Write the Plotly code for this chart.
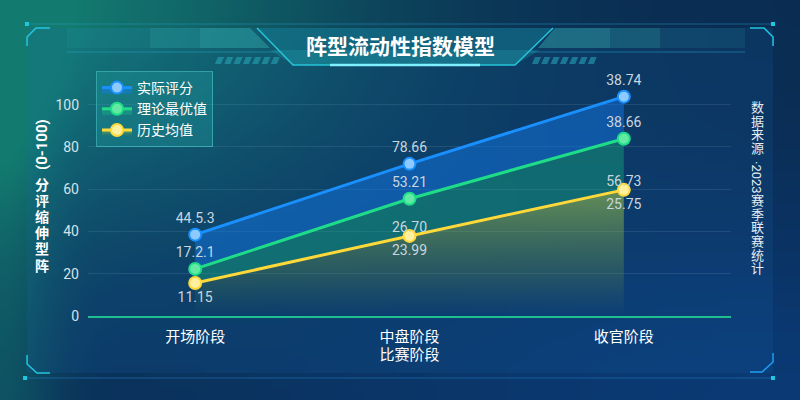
import base64
import math
import struct
import zlib

import plotly.graph_objects as go

# chart values
stages = ['开场阶段', '中盘阶段', '收官阶段']
actual = [38.5, 72.0, 103.8]
optimal = [22.3, 55.5, 83.9]
history = [15.6, 37.9, 59.7]

# data labels as printed on the reference
actual_text = ['44.5.3', '78.66', '38.74']
optimal_text = ['17.2.1', '53.21', '38.66']
history_text = ['11.15', '23.99', '25.75']
history_top_text = ['', '26.70', '56.73']

y_ticks = [0, 20, 40, 60, 80, 100]

FONT = 'Roboto, "Noto Sans CJK SC", sans-serif'
W, H = 800, 400


def mix(c1, c2, t):
    return tuple(c1[k] + (c2[k] - c1[k]) * t for k in range(3))


def bg_png(w=100, h=50):
    # small gradient picture, stretched over the page as background
    navy = (10, 44, 82)
    teal = (19, 122, 112)
    blue = (10, 60, 122)
    raw = b''
    for j in range(h):
        v = (j + 0.5) / h
        row = bytearray([0])
        for i in range(w):
            u = (i + 0.5) / w
            t = math.exp(-((u / 0.45) ** 2 + (v / 0.55) ** 2)) + 0.45 * math.exp(-(u / 0.07) ** 2)
            b = 0.85 * math.exp(-(((1 - u) / 0.75) ** 2 + ((1 - v) / 0.5) ** 2))
            t = min(t, 1.0)
            c = mix(navy, blue, min(b, 1.0))
            c = mix(c, teal, t)
            row += bytes(int(max(0, min(255, x))) for x in c)
        raw += bytes(row)

    def chunk(tag, data):
        return (struct.pack('>I', len(data)) + tag + data
                + struct.pack('>I', zlib.crc32(tag + data) & 0xffffffff))

    png = b'\x89PNG\r\n\x1a\n'
    png += chunk(b'IHDR', struct.pack('>IIBBBBB', w, h, 8, 2, 0, 0, 0))
    png += chunk(b'IDAT', zlib.compress(raw, 9))
    png += chunk(b'IEND', b'')
    return 'data:image/png;base64,' + base64.b64encode(png).decode()


def P(x, y):
    return f'{x / W:.4f},{1 - y / H:.4f}'


def path(points, close=True):
    s = 'M ' + ' L '.join(P(x, y) for x, y in points)
    return s + (' Z' if close else '')


shapes = []


def poly(points, fill, line='rgba(0,0,0,0)', width=0):
    shapes.append(dict(type='path', path=path(points), xref='paper', yref='paper',
                       fillcolor=fill, line=dict(color=line, width=width), layer='below'))


def polyline(points, color, width=1.5):
    shapes.append(dict(type='path', path=path(points, close=False), xref='paper', yref='paper',
                       line=dict(color=color, width=width), layer='below'))


# panel
poly([(27, 28), (773, 28), (773, 373), (27, 373)], 'rgba(30,110,190,0.14)')
polyline([(27, 24), (773, 24)], 'rgba(40,160,200,0.45)', 1)
polyline([(25, 378), (773, 378)], 'rgba(40,140,220,0.45)', 1)
# corner brackets
cyan = '#22c6e0'
polyline([(27, 46), (27, 37), (36, 28), (50, 28)], cyan, 1.5)
polyline([(750, 28), (764, 28), (773, 37), (773, 46)], cyan, 1.5)
polyline([(27, 355), (27, 364), (37, 373), (50, 373)], cyan, 1.5)
polyline([(750, 372), (762, 372), (773, 362), (773, 353)], '#1e9ef0', 1.5)
for dx, dy in [(27, 24), (773, 24), (25, 378), (773, 378)]:
    poly([(dx - 2, dy - 2), (dx + 2, dy - 2), (dx + 2, dy + 2), (dx - 2, dy + 2)], cyan)

# title banner
poly([(257, 28), (553, 28), (515, 65), (293, 65)], 'rgba(20,130,150,0.45)')
poly([(270, 50), (540, 50), (515, 65), (293, 65)], 'rgba(40,170,180,0.25)')
polyline([(257, 28), (293, 65), (515, 65), (553, 28)], '#25c4d8', 1.5)
polyline([(330, 65), (480, 65)], '#7ff0ff', 2.5)
# side bars
poly([(67, 28), (250, 28), (270, 48), (67, 48)], 'rgba(40,160,160,0.14)')
poly([(150, 28), (250, 28), (270, 48), (150, 48)], 'rgba(60,190,185,0.16)')
poly([(200, 28), (250, 28), (270, 48), (200, 48)], 'rgba(70,200,190,0.16)')
poly([(555, 28), (745, 28), (745, 48), (538, 48)], 'rgba(40,160,160,0.14)')
poly([(555, 28), (660, 28), (660, 48), (538, 48)], 'rgba(60,190,185,0.16)')
poly([(555, 28), (610, 28), (610, 48), (538, 48)], 'rgba(70,200,190,0.16)')
polyline([(67, 52), (282, 52)], 'rgba(40,170,200,0.5)', 1)
polyline([(526, 52), (745, 52)], 'rgba(40,170,200,0.5)', 1)
# hatch marks
for k in range(7):
    x0 = 218 + k * 9.3
    poly([(x0, 57), (x0 + 6, 57), (x0 + 3, 64), (x0 - 3, 64)], 'rgba(40,170,185,0.55)')
    x1 = 532 + k * 9.3
    poly([(x1 + 3, 57), (x1 + 9, 57), (x1 + 6, 64), (x1, 64)], 'rgba(40,170,185,0.55)')

fig = go.Figure()

label_font = dict(size=14, color='#c9d6df', family=FONT)

fig.add_trace(go.Scatter(
    x=stages, y=history, name='历史均值', legendrank=3,
    mode='lines+markers+text', text=history_text, textposition='bottom center',
    textfont=label_font,
    line=dict(color='#ffd83a', width=3),
    marker=dict(size=12, color='#fff0a0', line=dict(color='#ffd83a', width=2)),
    fill='tozeroy',
    fillgradient=dict(type='vertical', start=0, stop=60,
                      colorscale=[[0, 'rgba(100,150,70,0)'], [0.35, 'rgba(120,165,65,0.25)'],
                                  [1, 'rgba(160,200,75,0.6)']]),
    hoverinfo='skip',
))
fig.add_trace(go.Scatter(
    x=stages, y=optimal, name='理论最优值', legendrank=2,
    mode='lines+markers+text', text=optimal_text, textposition='top center',
    textfont=label_font,
    line=dict(color='#1fdc88', width=3),
    marker=dict(size=12, color='#62eaa5', line=dict(color='#1fdc88', width=2)),
    fill='tonexty', fillcolor='rgba(25,190,130,0.36)',
    hoverinfo='skip',
))
fig.add_trace(go.Scatter(
    x=stages, y=actual, name='实际评分', legendrank=1,
    mode='lines+markers+text', text=actual_text, textposition='top center',
    textfont=label_font,
    line=dict(color='#1a90ff', width=3),
    marker=dict(size=12, color='#8ccaff', line=dict(color='#1a90ff', width=2)),
    fill='tonexty', fillcolor='rgba(20,125,240,0.46)',
    hoverinfo='skip',
))
fig.add_trace(go.Scatter(
    x=stages, y=history, mode='text', text=history_top_text, textposition='top center',
    textfont=label_font, showlegend=False, hoverinfo='skip',
))


def note(text, x, y, size, angle=0, color='white'):
    return dict(text=text, x=x / W, y=1 - y / H, xref='paper', yref='paper',
                xanchor='center', yanchor='middle', textangle=angle, showarrow=False,
                font=dict(size=size, color=color, family=FONT))


def stack(chars, glyph, bold=False):
    # one glyph per line; line spacing follows the annotation font, glyph size the span
    cell = '<b>{}</b>' if bold else '{}'
    return '<br>'.join(f'<span style="font-size:{glyph}px">' + cell.format(c) + '</span>'
                       for c in chars)


annotations = [note('<b>阵型流动性指数模型</b>', 400, 47, 21)]

# y-axis title, upright glyphs stacked (reads bottom to top)
annotations.append(note('<b>(0-100)</b>', 42, 145, 15, angle=-90))
annotations.append(note(stack('分评缩伸型阵', 14, bold=True), 42, 225, 12.4))

# source note on the right
annotations.append(note(stack('数据来源', 13), 757, 128, 10.5, color='#e4edf4'))
annotations.append(note('·2023', 757, 177, 13, angle=90, color='#e4edf4'))
annotations.append(note(stack('赛季联赛统计', 13), 757, 234, 10.5, color='#e4edf4'))

fig.update_layout(
    width=W, height=H,
    margin=dict(l=0, r=0, t=0, b=0),
    paper_bgcolor='#0a2c52',
    plot_bgcolor='rgba(0,0,0,0)',
    font=dict(family=FONT, color='white'),
    images=[dict(source=bg_png(), xref='paper', yref='paper', x=0, y=1, sizex=1, sizey=1,
                 sizing='stretch', xanchor='left', yanchor='top', layer='below')],
    shapes=shapes,
    annotations=annotations,
    showlegend=True,
    legend=dict(x=96 / W, y=1 - 71 / H, xanchor='left', yanchor='top', traceorder='normal',
                bgcolor='rgba(35,160,160,0.35)', bordercolor='rgba(80,210,210,0.55)', borderwidth=1,
                font=dict(size=14, color='white', family=FONT), tracegroupgap=0),
    xaxis=dict(
        domain=[88 / W, 731 / W], type='category', range=[-0.5, 2.5],
        showgrid=False, zeroline=False, showline=True, linecolor='#1fbf8f', linewidth=2,
        ticks='', tickfont=dict(size=15, color='white'), ticklabelstandoff=6,
        title=dict(text='比赛阶段', font=dict(size=15, color='white'), standoff=4),
        automargin=False, fixedrange=True,
    ),
    yaxis=dict(
        domain=[84 / H, 327 / H], range=[0, 115], tickvals=y_ticks,
        showgrid=True, gridcolor='rgba(140,180,210,0.15)', gridwidth=1, zeroline=False,
        ticks='', tickfont=dict(size=14, color='#d5e2ea'), ticklabelstandoff=8,
        automargin=False, fixedrange=True,
    ),
)

fig.write_html('out.html', config={'displayModeBar': False},
               post_script="document.body.style.margin='0';")
